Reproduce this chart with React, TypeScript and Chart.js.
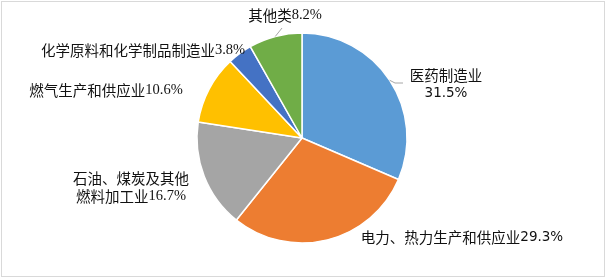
import React, { useEffect, useRef } from 'react';
import { Chart, registerables } from 'chart.js';

Chart.register(...registerables);

const categories = [
  '医药制造业',
  '电力、热力生产和供应业',
  '石油、煤炭及其他燃料加工业',
  '燃气生产和供应业',
  '化学原料和化学制品制造业',
  '其他类',
];
const shares = [31.5, 29.3, 16.7, 10.6, 3.8, 8.2];
const sliceColors = ['#5B9BD5', '#ED7D31', '#A5A5A5', '#FFC000', '#4472C4', '#70AD47'];

// label layout: offsets from pie centre, optional line split, number font kind, leader points
const labelLayout: { dx: number; dy: number; split?: number; num: 'sans' | 'serif'; leader?: number[][] }[] = [
  { dx: 144, dy: -63, split: 5, num: 'sans', leader: [[93, -55], [101, -55]] },
  { dx: 160, dy: 99, num: 'sans' },
  { dx: -171, dy: 40, split: 8, num: 'serif' },
  { dx: -196, dy: -48, num: 'serif' },
  { dx: -159, dy: -88, num: 'serif' },
  { dx: -17, dy: -123, num: 'serif', leader: [[-20, -110]] },
];

const CJK = '14.5px "Noto Sans CJK SC"';
const SERIF = '14.5px "Liberation Serif"';
const SANS = '13.5px "DejaVu Sans"';

const framePlugin = {
  id: 'frame',
  beforeDraw(chart: any) {
    const { ctx, width, height } = chart;
    ctx.save();
    ctx.fillStyle = '#FFFFFF';
    ctx.fillRect(0, 0, width, height);
    ctx.strokeStyle = '#D9D9D9';
    ctx.lineWidth = 1;
    ctx.strokeRect(1.5, 1.5, width - 2, height - 2);
    ctx.restore();
  },
};

const labelPlugin = {
  id: 'sliceLabels',
  afterDatasetsDraw(chart: any) {
    const ctx = chart.ctx;
    const meta = chart.getDatasetMeta(0);
    ctx.save();
    ctx.textBaseline = 'middle';
    ctx.textAlign = 'left';
    ctx.fillStyle = '#111111';
    categories.forEach((cat, i) => {
      const arc = meta.data[i] as any;
      const cx = arc.x;
      const cy = arc.y;
      const L = labelLayout[i];
      const pct = shares[i].toFixed(1) + '%';
      const numFont = L.num === 'sans' ? SANS : SERIF;
      let lines: { t: string; f: string }[][];
      if (L.split !== undefined) {
        const second: { t: string; f: string }[] = [];
        const rest = cat.slice(L.split);
        if (rest) second.push({ t: rest, f: CJK });
        second.push({ t: pct, f: numFont });
        lines = [[{ t: cat.slice(0, L.split), f: CJK }], second];
      } else {
        lines = [[{ t: cat, f: CJK }, { t: pct, f: numFont }]];
      }
      const lh = 18;
      const x0 = cx + L.dx;
      const yStart = cy + L.dy - ((lines.length - 1) * lh) / 2 + (lines.length > 1 ? ((lines.length - 1) * lh) / 2 : 0);
      lines.forEach((segs, li) => {
        let w = 0;
        segs.forEach((s) => {
          ctx.font = s.f;
          w += ctx.measureText(s.t).width;
        });
        let x = x0 - w / 2;
        const y = yStart + li * lh;
        segs.forEach((s) => {
          ctx.font = s.f;
          ctx.fillText(s.t, x, y);
          x += ctx.measureText(s.t).width;
        });
      });
      if (L.leader) {
        const mid = (arc.startAngle + arc.endAngle) / 2;
        const r = arc.outerRadius;
        ctx.beginPath();
        ctx.strokeStyle = '#A6A6A6';
        ctx.lineWidth = 1;
        ctx.moveTo(cx + r * Math.cos(mid), cy + r * Math.sin(mid));
        L.leader.forEach((p) => ctx.lineTo(cx + p[0], cy + p[1]));
        ctx.stroke();
      }
    });
    ctx.restore();
  },
};

export default function App() {
  const ref = useRef<HTMLCanvasElement | null>(null);
  useEffect(() => {
    document.body.style.margin = '0';
    if (!ref.current) return;
    const chart = new Chart(ref.current, {
      type: 'pie',
      data: {
        labels: categories,
        datasets: [
          {
            data: shares,
            backgroundColor: sliceColors,
            borderColor: '#FFFFFF',
            borderWidth: 1.5,
          },
        ],
      },
      options: {
        animation: false,
        responsive: false,
        radius: 105,
        layout: { padding: { left: 0, right: 1, top: 0, bottom: 1 } },
        plugins: {
          legend: { display: false },
          tooltip: { enabled: false },
        },
      } as any,
      plugins: [framePlugin, labelPlugin],
    });
    return () => chart.destroy();
  }, []);
  return (
    <div style={{ width: 605, height: 277 }}>
      <canvas ref={ref} width={605} height={277} style={{ display: 'block' }} />
    </div>
  );
}
